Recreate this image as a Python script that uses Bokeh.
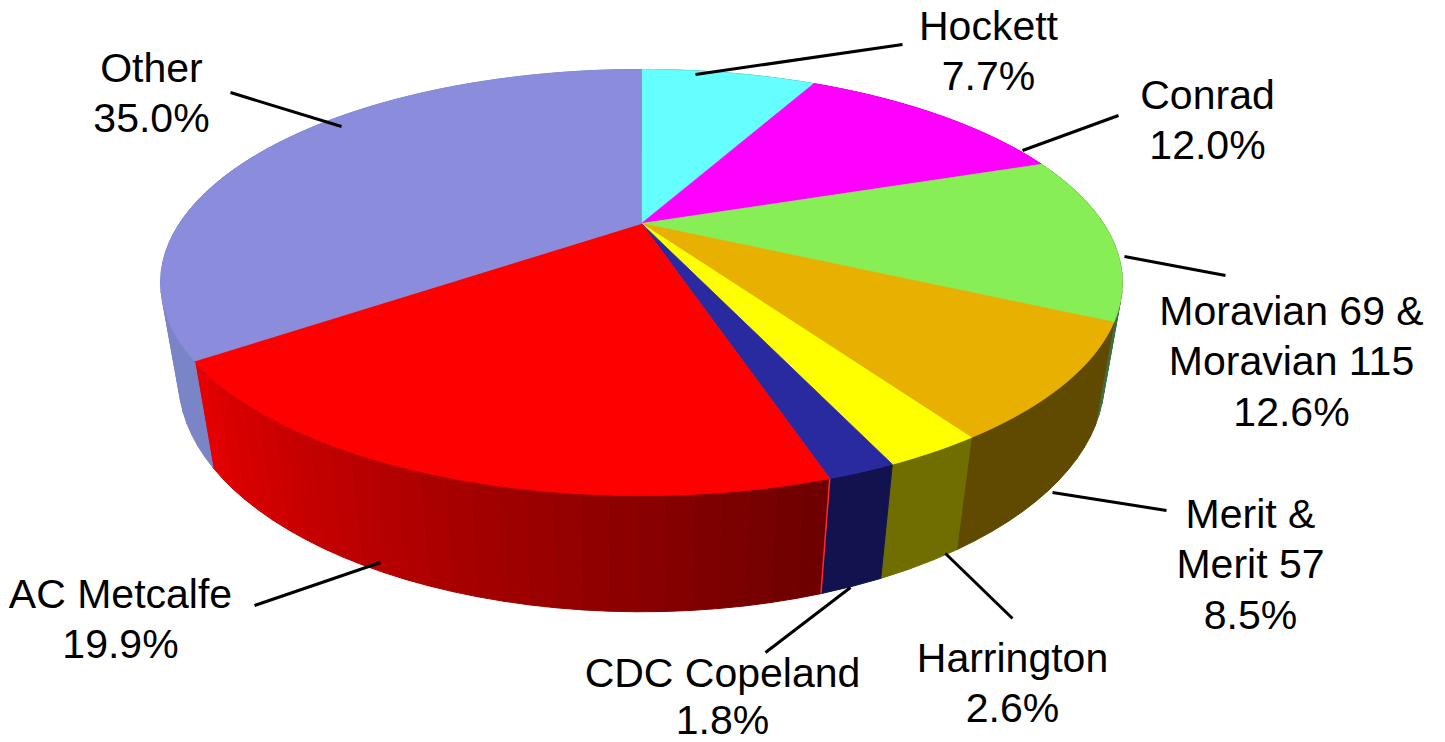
import math
from bokeh.plotting import figure
from bokeh.models import Range1d, ColumnDataSource
from bokeh.core.properties import value
from bokeh.embed import file_html
from bokeh.resources import INLINE

# --- data -------------------------------------------------------------
varieties = ["Hockett", "Conrad", "Moravian 69 & Moravian 115", "Merit & Merit 57",
             "Harrington", "CDC Copeland", "AC Metcalfe", "Other"]
shares = [7.7, 12.0, 12.6, 8.5, 2.6, 1.8, 19.9, 35.0]
share_labels = ["7.7%", "12.0%", "12.6%", "8.5%", "2.6%", "1.8%", "19.9%", "35.0%"]
label_lines = [["Hockett"], ["Conrad"], ["Moravian 69 &", "Moravian 115"], ["Merit &", "Merit 57"],
               ["Harrington"], ["CDC Copeland"], ["AC Metcalfe"], ["Other"]]

# --- style / layout ---------------------------------------------------
top_colors = ["#66FFFF", "#FF00FF", "#88EE55", "#E8B000", "#FFFF00", "#2A2AA0", "#FF0000", "#8C8CDD"]
side_from = ["#338080", "#800080", "#3F7040", "#5F4A00", "#706E00", "#12124F", "#E40000", "#7A85C8"]
side_to   = ["#338080", "#800080", "#3F7040", "#5F4A00", "#706E00", "#12124F", "#6E0000", "#7A85C8"]
label_x = [988, 1207, 1291, 1250, 1012, 722, 120, 151]
label_y = [25, 94, 310, 513, 657, 672, 593, 67]
line_pitch = [50.5, 50.5, 50.5, 50.5, 50.5, 47, 50.5, 50.5]
leader_x0 = [695, 1022, 1124, 1052, 945, 850, 380, 341]
leader_y0 = [74, 150, 256, 492, 553, 587, 562, 126]
leader_x1 = [902, 1118, 1225, 1166, 1012, 765, 254, 230]
leader_y1 = [44, 115, 275, 510, 618, 652, 605, 92]

# Perspective projection of the disc
CX, CY, A, B, K, DEPTH, M = 641.0, 223.0, 462.0, 196.7, 0.277, 98.0, 0.036


def project(theta_deg, r=1.0, z=0.0):
    t = math.radians(theta_deg)
    u, v = r * math.sin(t), r * math.cos(t)
    w = 1 + K * v + M * z
    return CX + A * u / w, CY + (-B * v + DEPTH * z) / w


def mix(c0, c1, f):
    a = [int(c0[i:i + 2], 16) for i in (1, 3, 5)]
    b = [int(c1[i:i + 2], 16) for i in (1, 3, 5)]
    return "#%02X%02X%02X" % tuple(round(x + (y - x) * f) for x, y in zip(a, b))


p = figure(width=1445, height=742, output_backend="svg", toolbar_location=None,
           x_range=Range1d(0, 1445), y_range=Range1d(742, 0),
           min_border=0, outline_line_color=None, background_fill_color="white")
p.xaxis.visible = False
p.yaxis.visible = False
p.grid.visible = False

# cumulative angles
edges = [0.0]
for s in shares:
    edges.append(edges[-1] + s / sum(shares) * 360.0)

# walls: narrow strips, shaded across the slice
xs, ys, cols = [], [], []
for i in range(len(shares)):
    a0, a1 = edges[i], edges[i + 1]
    n = max(1, int((a1 - a0) / 2.5))
    for j in range(n):
        s0 = a0 + (a1 - a0) * j / n
        s1 = a0 + (a1 - a0) * (j + 1) / n
        t0 = project(s0, z=0); t1 = project(s1, z=0)
        b1 = project(s1, z=1); b0 = project(s0, z=1)
        xs.append([t0[0], t1[0], b1[0], b0[0]])
        ys.append([t0[1], t1[1], b1[1], b0[1]])
        # gradient runs from right to left across the red wall
        cols.append(mix(side_to[i], side_from[i], j / max(1, n - 1)))
p.patches(xs="xs", ys="ys", fill_color="cols", line_color="cols", line_width=1,
          source=ColumnDataSource(dict(xs=xs, ys=ys, cols=cols)))

# thin bright edge on the near end of the red wall
i_red = varieties.index("AC Metcalfe")
e0, e1 = project(edges[i_red], z=0), project(edges[i_red], z=1)
p.line([e0[0], e1[0]], [e0[1], e1[1]], line_color="#FF2A2A", line_width=1.5)

# top faces
xs, ys = [], []
for i in range(len(shares)):
    a0, a1 = edges[i], edges[i + 1]
    n = max(8, int((a1 - a0)))
    pts = [project(a0 + (a1 - a0) * j / n) for j in range(n + 1)]
    xs.append([CX] + [q[0] for q in pts])
    ys.append([CY] + [q[1] for q in pts])
p.patches(xs="xs", ys="ys", fill_color="cols", line_color="cols", line_width=0.8,
          source=ColumnDataSource(dict(xs=xs, ys=ys, cols=top_colors)))

# leader lines
p.segment(leader_x0, leader_y0, leader_x1, leader_y1, line_color="black", line_width=3)

# labels
tx, ty, tt = [], [], []
for i, lines in enumerate(label_lines):
    for k, s in enumerate(lines + [share_labels[i]]):
        tx.append(label_x[i]); ty.append(label_y[i] + k * line_pitch[i]); tt.append(s)
p.text(x=tx, y=ty, text=tt, text_font=value("Liberation Sans"), text_font_size="41px",
       text_align="center", text_baseline="middle", text_color="black")

open("out.html", "w").write(file_html(p, INLINE))
